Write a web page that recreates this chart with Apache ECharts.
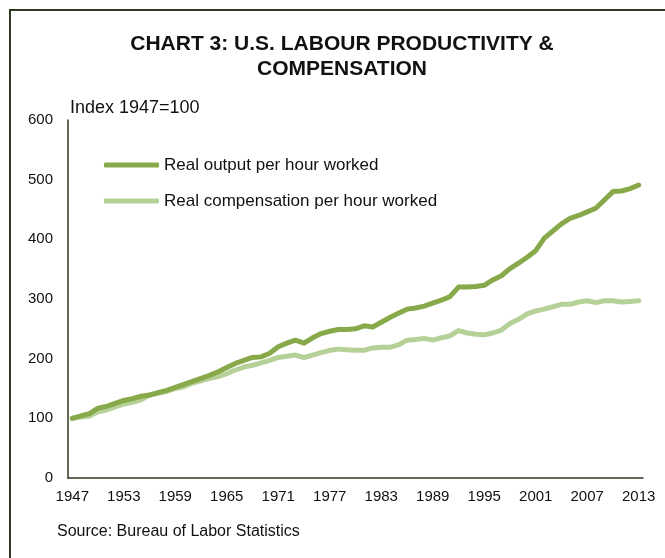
<!DOCTYPE html>
<html lang="en">
  <head>
    <meta charset="UTF-8" />
    <title>U.S. Labour Productivity & Compensation</title>
    <script src="https://cdn.jsdelivr.net/npm/echarts@6/dist/echarts.min.js"></script>
    <style>
      body { margin: 0; background: #fff; }
    </style>
  </head>
  <body>
    <div id="main" style="width: 665px; height: 558px"></div>
    <script type="text/javascript">
      // years 1947..2013
      const years = [];
      for (let y = 1947; y <= 2013; y++) years.push(String(y));

      // Real output per hour worked (index 1947=100)
      const output = [
        100, 104, 108, 117, 120, 125, 130, 133, 137, 139,
        143, 147, 152, 157, 162, 167, 172, 178, 185, 192,
        197, 202, 203, 209, 220, 226, 231, 226, 235, 242,
        246, 249, 249, 250, 255, 253, 261, 269, 276, 283,
        285, 288, 293, 298, 304, 320, 320, 321, 323, 332,
        339, 351, 360, 370, 381, 402, 414, 426, 435, 440,
        446, 452, 466, 480, 481, 485, 491
      ];

      // Real compensation per hour worked
      const compensation = [
        100, 102, 104, 111, 114, 119, 124, 127, 131, 139,
        142, 145, 150, 153, 159, 163, 167, 170, 175, 181,
        186, 189, 193, 197, 202, 204, 206, 202, 206, 210,
        214, 216, 215, 214, 214, 218, 219, 219, 223, 231,
        232, 234, 231, 235, 238, 247, 243, 241, 240, 243,
        248, 259, 266, 275, 280, 283, 287, 291, 291, 295,
        297, 294, 297, 297, 295, 296, 297
      ];

      const font = "Liberation Sans, Arial, sans-serif";

      const options = {
        backgroundColor: "#fff",
        animation: false,
        title: {
          text: "CHART 3: U.S. LABOUR PRODUCTIVITY &\nCOMPENSATION",
          left: 342,
          textAlign: "center",
          top: 32,
          padding: 0,
          textStyle: {
            fontFamily: font,
            fontWeight: "bold",
            fontSize: 21,
            lineHeight: 25,
            color: "#111",
          },
        },
        legend: {
          orient: "vertical",
          left: 99,
          top: 150,
          itemWidth: 55,
          itemHeight: 5,
          itemGap: 16,
          icon: "roundRect",
          textStyle: { fontFamily: font, fontSize: 17, color: "#111", lineHeight: 20 },
          data: ["Real output per hour worked", "Real compensation per hour worked"],
        },
        grid: { left: 68, right: 22, top: 120, bottom: 80 },
        xAxis: {
          type: "category",
          data: years,
          boundaryGap: true,
          axisLine: { lineStyle: { color: "#2f3a1f", width: 1.5 } },
          axisTick: { show: false },
          axisLabel: {
            interval: 5,
            fontFamily: font,
            fontSize: 15,
            color: "#111",
            margin: 11,
          },
        },
        yAxis: {
          type: "value",
          min: 0,
          max: 600,
          interval: 100,
          name: "Index 1947=100",
          nameLocation: "end",
          nameGap: 3,
          nameTextStyle: {
            fontFamily: font,
            fontSize: 18,
            color: "#111",
            align: "left",
            padding: [0, 0, 0, 2],
          },
          axisLine: { show: true, lineStyle: { color: "#2f3a1f", width: 1.5 } },
          axisTick: { show: false },
          splitLine: { show: false },
          axisLabel: {
            fontFamily: font,
            fontSize: 15,
            color: "#111",
            margin: 15,
            padding: [4, 0, 0, 0],
          },
        },
        series: [
          {
            name: "Real output per hour worked",
            type: "line",
            data: output,
            showSymbol: false,
            color: "#87a94a",
            lineStyle: { width: 5, color: "#87a94a", cap: "round", join: "round" },
          },
          {
            name: "Real compensation per hour worked",
            type: "line",
            data: compensation,
            showSymbol: false,
            color: "#b6d198",
            z: 1,
            lineStyle: { width: 5, color: "#b6d198", cap: "round", join: "round" },
          },
        ],
        graphic: [
          {
            type: "rect",
            shape: { x: 10, y: 10, width: 720, height: 620 },
            style: { fill: "none", stroke: "#2f3a1f", lineWidth: 2 },
            silent: true,
          },
          {
            type: "text",
            left: 57,
            top: 524,
            style: {
              text: "Source: Bureau of Labor Statistics",
              fontFamily: font,
              fontSize: 16,
              fill: "#111",
            },
          },
        ],
      };

      const myChart = echarts.init(document.getElementById("main"));
      myChart.setOption(options);
    </script>
  </body>
</html>
